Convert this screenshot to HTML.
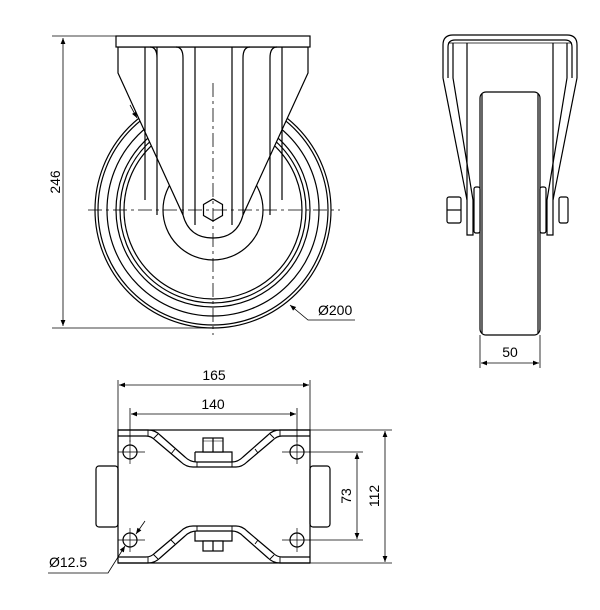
<!DOCTYPE html>
<html><head><style>html,body{margin:0;padding:0;background:#fff}svg{display:block}</style></head>
<body>
<svg width="600" height="610" viewBox="0 0 600 610" xmlns="http://www.w3.org/2000/svg" font-family="Liberation Sans, DejaVu Sans, sans-serif">
<defs>
<marker id="a" viewBox="0 0 10 10" refX="10" refY="5" markerWidth="8" markerHeight="6" orient="auto-start-reverse" markerUnits="userSpaceOnUse"><path d="M0,1 L10,5 L0,9 z" fill="#000"/></marker>
</defs>
<g fill="none" stroke="#000" stroke-width="1.2">
<circle cx="213" cy="210" r="118"/>
<circle cx="213" cy="210" r="115"/>
<circle cx="213" cy="210" r="106"/>
<circle cx="213" cy="210" r="97"/>
<circle cx="213" cy="210" r="93"/>
<circle cx="213" cy="210" r="89"/>
<circle cx="213" cy="210" r="50"/>
<path d="M118,47 L118,73 L183,215 Q189,238 213,238 Q237,238 243,215 L308,73 L308,47 Z" fill="#fff"/>
<rect x="116" y="36" width="194" height="11" fill="#fff"/>
<path d="M145,47 V200 M157,47 V58 Q157,47 150,47 M157,58 V215 M183,58 Q183,47 176,47 M183,58 V215 M195,47 V225 M232,47 V225 M243,58 Q243,47 250,47 M243,58 V215 M270,58 Q270,47 277,47 M270,58 V215 M282,47 V200"/>
<polygon points="213,199 222.5,204.5 222.5,215.5 213,221 203.5,215.5 203.5,204.5" fill="#fff"/>
</g>
<g stroke="#000" stroke-width="0.8" stroke-dasharray="14,4,3,4" fill="none">
<line x1="88" y1="210" x2="340" y2="210"/>
<line x1="213" y1="83" x2="213" y2="335"/>
</g>
<g stroke="#000" stroke-width="0.8" fill="none">
<line x1="52" y1="36" x2="116" y2="36"/>
<line x1="52" y1="328" x2="213" y2="328"/>
<line x1="63" y1="38" x2="63" y2="326" marker-start="url(#a)" marker-end="url(#a)"/>
<path d="M130,105 L137,118" marker-end="url(#a)"/>
<path d="M355,320 L308,320 L290,305" marker-end="url(#a)"/>
</g>
<text font-size="14" transform="translate(60,182) rotate(-90)" text-anchor="middle">246</text>
<text x="318" y="315" font-size="14">Ø200</text>

<!-- side view -->
<g fill="none" stroke="#000" stroke-width="1.2">
<path d="M443,78 L443,45 Q443,35 453,35 L567,35 Q577,35 577,45 L577,78"/>
<path d="M448,78 L448,47 Q448,40 455,40 L565,40 Q572,40 572,47 L572,78"/>
<line x1="448" y1="43" x2="572" y2="43" stroke-width="0.8"/>
<path d="M443,78 L467,200 L467,235 L473,235 L473,200 L453,78 L453,43"/>
<path d="M577,78 L553,200 L553,235 L547,235 L547,200 L567,78 L567,43"/>
<path d="M467,43 V200 M553,43 V200"/>
<rect x="480" y="92" width="60" height="243" rx="6" fill="#fff"/>
<line x1="482" y1="94" x2="482" y2="333"/><line x1="538" y1="94" x2="538" y2="333"/>
<rect x="474" y="187" width="6" height="46" rx="2" fill="#fff"/>
<rect x="540" y="187" width="6" height="46" rx="2" fill="#fff"/>
<rect x="447" y="197" width="14" height="26" rx="2" fill="#fff"/>
<rect x="559" y="197" width="9" height="26" rx="2" fill="#fff"/>
<line x1="447" y1="210" x2="461" y2="210"/>
</g>
<g stroke="#000" stroke-width="0.8" fill="none">
<line x1="480" y1="335" x2="480" y2="368"/><line x1="540" y1="335" x2="540" y2="368"/>
<line x1="481" y1="363" x2="539" y2="363" marker-start="url(#a)" marker-end="url(#a)"/>
</g>
<text x="510" y="357" font-size="14" text-anchor="middle">50</text>

<!-- bottom view -->
<g fill="none" stroke="#000" stroke-width="1.2">
<rect x="96" y="466" width="22" height="61" rx="3"/>
<rect x="310" y="466" width="20" height="61" rx="3"/>
<rect x="118" y="430" width="192" height="133"/>
<path d="M118,430 L148,430 Q155,430 160,435 L185,457 Q190,462 197,462 L232,462 Q238,462 243,457 L268,435 Q273,430 280,430 L310,430 M118,436 L146,436 Q151,436 155,440 L181,462 Q186,467 193,467 L236,467 Q242,467 247,462 L273,440 Q277,436 282,436 L310,436"/>
<path d="M118,563 L148,563 Q155,563 160,558 L185,536 Q190,531 197,531 L232,531 Q238,531 243,536 L268,558 Q273,563 280,563 L310,563 M118,557 L146,557 Q151,557 155,553 L181,531 Q186,526 193,526 L236,526 Q242,526 247,531 L273,553 Q277,557 282,557 L310,557"/>
<path d="M148,430 V436 M158,434 L153,439 M175,449 L171,454 M197,462 V467 M232,462 V467 M255,449 L258,453 M270,434 L274,438 M280,430 V436 M148,557 V563 M158,559 L153,554 M175,544 L171,540 M197,526 V531 M232,526 V531 M255,544 L258,540 M270,559 L274,555 M280,557 V563" stroke-width="0.9"/>
<path d="M195,452 H232 V462 M195,452 V462"/>
<rect x="203" y="438" width="20" height="14" fill="#fff"/>
<line x1="213" y1="438" x2="213" y2="452"/>
<line x1="203" y1="441" x2="223" y2="441" stroke-width="0.6"/>
<path d="M195,531 V541 H232 V531"/>
<rect x="203" y="541" width="20" height="10" fill="#fff"/>
<line x1="213" y1="541" x2="213" y2="551"/>
<circle cx="130" cy="452" r="7"/><circle cx="297" cy="452" r="7"/>
<circle cx="130" cy="540" r="7"/><circle cx="297" cy="540" r="7"/>
</g>
<g stroke="#000" stroke-width="0.7" fill="none">
<path d="M118,452 H145 M130,440 V464 M282,452 H310 M297,440 V464 M118,540 H145 M130,528 V552 M282,540 H310 M297,528 V552"/>
</g>
<g stroke="#000" stroke-width="0.8" fill="none">
<line x1="118" y1="430" x2="118" y2="380"/><line x1="310" y1="430" x2="310" y2="380"/>
<line x1="119" y1="385" x2="309" y2="385" marker-start="url(#a)" marker-end="url(#a)"/>
<line x1="130" y1="442" x2="130" y2="408"/><line x1="297" y1="442" x2="297" y2="408"/>
<line x1="131" y1="414" x2="296" y2="414" marker-start="url(#a)" marker-end="url(#a)"/>
<line x1="310" y1="430" x2="392" y2="430"/><line x1="310" y1="563" x2="392" y2="563"/>
<line x1="385" y1="431" x2="385" y2="562" marker-start="url(#a)" marker-end="url(#a)"/>
<line x1="309" y1="452" x2="363" y2="452"/><line x1="309" y1="540" x2="363" y2="540"/>
<line x1="357" y1="453" x2="357" y2="539" marker-start="url(#a)" marker-end="url(#a)"/>
<path d="M145,521 L136,534" marker-end="url(#a)"/>
<path d="M48,573 L108,573 L125,546" marker-end="url(#a)"/>
</g>
<text x="214" y="380" font-size="14" text-anchor="middle">165</text>
<text x="213" y="409" font-size="14" text-anchor="middle">140</text>
<text font-size="14" transform="translate(351,496) rotate(-90)" text-anchor="middle">73</text>
<text font-size="14" transform="translate(379,496) rotate(-90)" text-anchor="middle">112</text>
<text x="49" y="567" font-size="14">Ø12.5</text>
</svg>
</body></html>
